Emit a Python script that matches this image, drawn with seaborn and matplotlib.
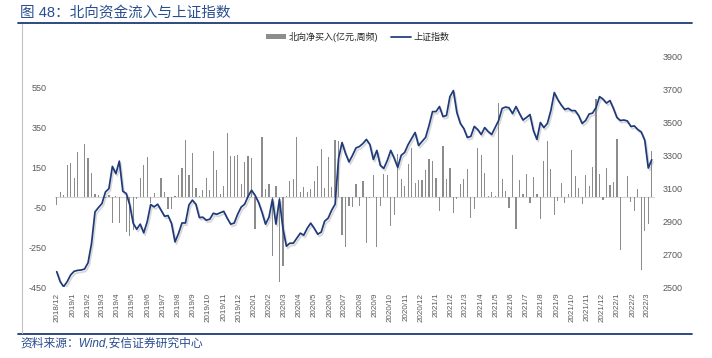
"""
Northbound capital flow vs. Shanghai Composite index (weekly).

Recreates the report chart: grey weekly bars of northbound net buying
(left axis, 100m CNY) with the SSE index line on a secondary axis.
"""

import matplotlib
matplotlib.use('Agg')

import numpy as np
import pandas as pd
import matplotlib.pyplot as plt
import matplotlib.dates as mdates
import matplotlib.patheffects as pe
from matplotlib.lines import Line2D
from matplotlib.patches import Patch
import seaborn as sns

# first week of the weekly series
start_week = '2018-11-30'

# northbound net buying, 100m CNY, one value per week
flow_weekly = [
    -40, 27, 13, 160, 172, 98, 227, 3, 265, 197,
    122, 15, 13, 0, -5, 10, -130, 8, -130, 0,
    -175, -192, -165, -10, 98, 160, 200, -28, 20, 0,
    97, 28, -60, -60, 5, 113, 148, 285, 110, 220,
    47, 5, 35, 97, 35, 232, 135, 18, 58, 318,
    205, 205, 212, 65, 178, 208, 198, -157, 0, 302,
    43, 67, -295, 58, -422, -342, 5, 82, 92, 302,
    25, 52, 28, 40, 80, 155, 240, 48, 203, 50,
    288, 282, -190, -248, -45, -48, 65, -42, 80, -227,
    -4, 110, -248, -43, 115, 112, -143, -88, 215, 93,
    55, 168, 247, 72, 88, 88, 135, 193, 180, 98,
    -70, 255, 90, 147, -78, -7, 67, 90, 143, -102,
    -57, 248, 210, 123, 5, 27, 7, 468, 90, 30,
    -52, 210, -160, 85, 18, 118, -28, 102, 15, -107,
    180, 280, 140, -90, -18, 72, -27, 18, 235, 105,
    47, -32, 112, 58, 150, 490, 115, -12, 147, 63,
    75, 293, -265, 0, 107, -23, -68, 42, -365, -170,
    -132, 230,
]

# Shanghai Composite weekly close
sse_weekly = [
    2595, 2534, 2504, 2534, 2575, 2597, 2603, 2605, 2611, 2649,
    2766, 2958, 2985, 3009, 3079, 3100, 3235, 3191, 3267, 3084,
    3070, 3000, 2888, 2853, 2884, 2831, 2898, 3003, 2989, 3005,
    2968, 2932, 2936, 2888, 2776, 2827, 2891, 2891, 3000, 3030,
    3005, 2924, 2926, 2908, 2914, 2950, 2944, 2953, 2962, 2920,
    2884, 2890, 2944, 2987, 3005, 3053, 3090, 3059, 3017, 2956,
    2884, 2926, 3035, 2884, 3035, 2859, 2750, 2768, 2768, 2799,
    2829, 2817, 2859, 2890, 2859, 2823, 2835, 2902, 2920, 2968,
    3005, 3284, 3380, 3314, 3262, 3302, 3347, 3356, 3374, 3399,
    3368, 3277, 3332, 3241, 3223, 3271, 3332, 3284, 3229, 3302,
    3320, 3368, 3405, 3441, 3362, 3387, 3411, 3484, 3568, 3568,
    3599, 3538, 3544, 3659, 3696, 3562, 3496, 3465, 3411, 3417,
    3478, 3459, 3429, 3471, 3447, 3429, 3471, 3514, 3587, 3596,
    3591, 3556, 3599, 3556, 3517, 3532, 3550, 3453, 3399, 3502,
    3471, 3496, 3574, 3684, 3641, 3608, 3581, 3588, 3574, 3574,
    3544, 3496, 3514, 3553, 3559, 3593, 3659, 3644, 3620, 3635,
    3587, 3532, 3514, 3517, 3511, 3478, 3481, 3459, 3444, 3393,
    3225, 3275,
]

# monthly tick labels along the date axis
month_ticks = pd.date_range('2018-12-01', '2022-03-01', freq='MS')
tick_labels = [f'{d.year}/{d.month}' for d in month_ticks]

title_text = '图 48：北向资金流入与上证指数'
source_text = '资料来源：Wind,安信证券研究中心'
bar_label = '北向净买入(亿元,周频)'
line_label = '上证指数'

BAR_COLOR = '#8c8c8c'
LINE_COLOR = '#1f3a7a'
TEXT_BLUE = '#2a4d8f'
TICK_COLOR = '#595959'

W, H = 712, 358


def main():
    weeks = pd.date_range(start_week, periods=len(flow_weekly), freq='7D')
    df = pd.DataFrame({
        'week': mdates.date2num(weeks),
        'flow': flow_weekly,
        'sse': sse_weekly,
    })

    sns.set_theme(style='white')
    plt.rcParams['font.family'] = ['Liberation Sans', 'Noto Sans CJK SC', 'DejaVu Sans']
    plt.rcParams['axes.unicode_minus'] = False

    fig = plt.figure(figsize=(W / 100, H / 100), dpi=100)
    ax = fig.add_axes([50 / W, 1 - 287.3 / H, 610 / W, 230.3 / H])

    # bars: weekly net flow
    sns.barplot(data=df, x='week', y='flow', native_scale=True, color=BAR_COLOR,
                saturation=1, width=0.35, errorbar=None, linewidth=0, ax=ax)
    ax.axhline(0, xmin=0.008, xmax=0.99, color='#d4d4d4', lw=0.8, zorder=0)

    # line: SSE index on right axis
    ax2 = ax.twinx()
    sns.lineplot(data=df, x='week', y='sse', ax=ax2, color=LINE_COLOR, linewidth=1.25,
                 solid_capstyle='round', solid_joinstyle='round',
                 path_effects=[pe.SimpleLineShadow(offset=(1.0, -1.6), shadow_color='#7f7f7f', alpha=0.3),
                               pe.Normal()])

    day0 = df['week'].iloc[0]
    ax.set_xlim(day0 - 13.5, day0 + 1213.6)
    ax.set_ylim(-450, 700)
    ax.set_yticks(np.arange(-450, 551, 200))
    ax2.set_ylim(2500, 3900)
    ax2.set_yticks(np.arange(2500, 3901, 200))

    ax.set_xticks(mdates.date2num(month_ticks))
    ax.set_xticklabels(tick_labels, rotation=90, fontsize=5.8, color=TICK_COLOR)
    ax.tick_params(axis='x', length=0, pad=4)
    ax.tick_params(axis='y', length=0, pad=2.5, labelsize=6.5, labelcolor=TICK_COLOR)
    ax2.tick_params(axis='y', length=0, pad=2, labelsize=6.5, labelcolor=TICK_COLOR)

    for a in (ax, ax2):
        a.set_xlabel('')
        a.set_ylabel('')
        a.grid(False)
        for s in a.spines.values():
            s.set_visible(False)

    # legend above the plot
    handles = [Patch(facecolor=BAR_COLOR, edgecolor='none'),
               Line2D([], [], color=LINE_COLOR, lw=1.25)]
    fig.legend(handles, [bar_label, line_label], loc='center',
               bbox_to_anchor=(358 / W, 1 - 37 / H), ncol=2, frameon=False,
               fontsize=6.5, handlelength=2.2, handleheight=0.45,
               handletextpad=0.3, columnspacing=1.4)

    # title, frame lines and source
    fig.text(20 / W, 1 - 13 / H, title_text, fontsize=10.5, color=TEXT_BLUE,
             ha='left', va='center')
    fig.add_artist(Line2D([18 / W, 692 / W], [1 - 23 / H] * 2, color=LINE_COLOR, lw=1.3))
    fig.add_artist(Line2D([18 / W, 692 / W], [1 - 334 / H] * 2, color=LINE_COLOR, lw=1.3))
    fig.add_artist(Line2D([22 / W] * 2, [1 - 24 / H, 1 - 333 / H], color='#c4c4c4', lw=0.8))
    fig.text(20 / W, 1 - 344 / H, source_text, fontsize=8.5, style='italic',
             color=TEXT_BLUE, ha='left', va='center')

    fig.savefig('out.png', dpi=100)
    plt.close(fig)


if __name__ == '__main__':
    main()
